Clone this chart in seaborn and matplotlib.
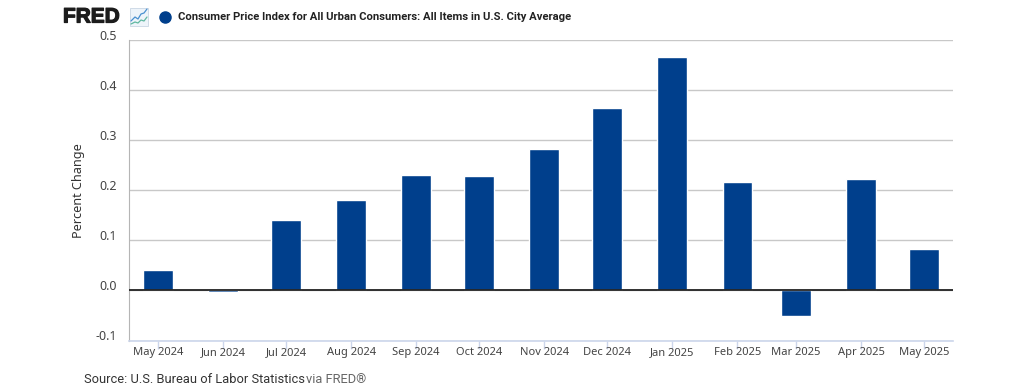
from matplotlib import pyplot as plt
from matplotlib.lines import Line2D
from matplotlib.patches import Rectangle
from matplotlib.transforms import ScaledTranslation
import matplotlib.patheffects as pe
import matplotlib.dates as mdates
import seaborn as sns
import pandas as pd

months = ["2024-05-01", "2024-06-01", "2024-07-01", "2024-08-01", "2024-09-01", "2024-10-01", "2024-11-01",
          "2024-12-01", "2025-01-01", "2025-02-01", "2025-03-01", "2025-04-01", "2025-05-01"]
labels = ["May 2024", "Jun 2024", "Jul 2024", "Aug 2024", "Sep 2024", "Oct 2024", "Nov 2024",
          "Dec 2024", "Jan 2025", "Feb 2025", "Mar 2025", "Apr 2025", "May 2025"]
values = [0.040, -0.004, 0.140, 0.181, 0.231, 0.228, 0.282, 0.365, 0.467, 0.216, -0.051, 0.223, 0.082]
yticks = [-0.1, 0.0, 0.1, 0.2, 0.3, 0.4, 0.5]
title = "Consumer Price Index for All Urban Consumers: All Items in U.S. City Average"

W, H = 1024, 387
BLUE = "#003f8c"

sns.set_style("white")
plt.rcParams['font.family'] = ['Noto Sans', 'DejaVu Sans']

df = pd.DataFrame({"date": mdates.date2num(pd.to_datetime(months)), "value": values})

fig = plt.figure(figsize=(W/100, H/100), dpi=100)
ax = fig.add_axes([129/W, 1-340.5/H, (953-129)/W, (340.5-40)/H])

sns.barplot(data=df, x="date", y="value", native_scale=True, width=0.5, color=BLUE, saturation=1, ax=ax, zorder=3)

# axis runs half a bar past the first and last months
pad = 29 / (766 / (df["date"].iloc[-1] - df["date"].iloc[0]))
ax.set_xlim(df["date"].iloc[0]-pad, df["date"].iloc[-1]+pad)
ax.set_ylim(-0.1, 0.5)
ax.set_xticks(df["date"])
ax.set_xticklabels(labels)
ax.set_yticks(yticks)
ax.set_yticklabels(["%.1f" % t for t in yticks])
ax.set_xlabel("")
ax.set_ylabel("Percent Change", fontsize=9.1, color="#333333")
ax.yaxis.set_label_coords(-44/824, 0.5)
ax.grid(axis="y", color="#c8c8c8", lw=1, zorder=0)
ax.axhline(0, color="#222222", lw=1.3, zorder=4)
ax.tick_params(axis="x", length=6, width=1, color="#ccd6eb", labelcolor="#444444", labelsize=8.0, pad=-1, bottom=True)
ax.tick_params(axis="y", length=0, labelcolor="#444444", labelsize=9.0, pad=9)
# y labels sit a little above their gridlines
shift = ScaledTranslation(0, 5.5/100, fig.dpi_scale_trans)
for lab in ax.get_yticklabels():
    lab.set_transform(lab.get_transform() + shift)

sns.despine(ax=ax, top=True, right=True)
ax.spines["left"].set_color("#b5b5b5")
ax.spines["bottom"].set_color("#ccd6eb")
ax.spines["bottom"].set_linewidth(1.2)

# header: logo, small line icon, legend dot and series name
logo = fig.text(63/W, 1-17/H, "FRED", fontsize=15, fontweight="bold", family="Liberation Sans", color="#1c1c1c", va="center")
logo.set_path_effects([pe.withStroke(linewidth=0.9, foreground="#1c1c1c")])
fig.patches.append(Rectangle((130/W, 1-26/H), 18/W, 18/H, transform=fig.transFigure, fc="#eef4fa", ec="#c9d6e4", lw=0.6))
fig.add_artist(Line2D([x/W for x in [131, 135, 138, 141, 144, 147]],
                      [1-y/H for y in [21, 17, 19, 14, 13, 9]], color="#4a90d0", lw=0.9))
fig.add_artist(Line2D([x/W for x in [131, 135, 138, 141, 144, 147]],
                      [1-y/H for y in [24, 22, 23, 20, 21, 17]], color="#5fb8a0", lw=0.9))
fig.add_artist(Line2D([165/W], [1-17/H], marker="o", ms=8, color=BLUE, lw=0))
fig.text(178/W, 1-16.5/H, title, fontsize=8.07, fontweight="bold", family="Roboto", color="#222222", va="center")

# source line
fig.text(84/W, 1-379.5/H, "Source: U.S. Bureau of Labor Statistics", fontsize=9.3, family="Roboto", color="#333333", va="center")
fig.text(306.5/W, 1-379.5/H, "via FRED®", fontsize=9.3, family="Roboto", color="#666666", va="center")

plt.savefig("out.png", dpi=100)
